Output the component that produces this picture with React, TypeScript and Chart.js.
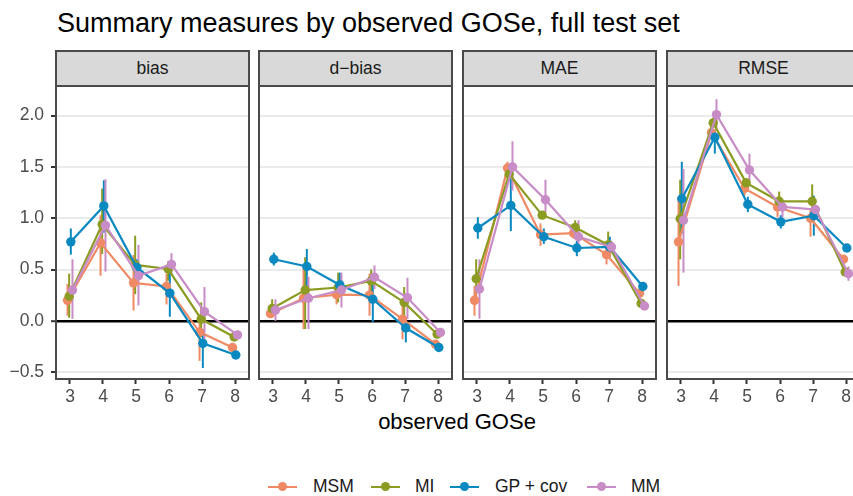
import React, { useEffect, useRef } from 'react';
import { Chart, registerables } from 'chart.js';

Chart.register(...registerables);

const FONT = '"Liberation Sans", Arial, Helvetica, sans-serif';

const TITLE = 'Summary measures by observed GOSe, full test set';
const X_TITLE = 'observed GOSe';
const GOSE = [3, 4, 5, 6, 7, 8];
const Y_TICKS = [-0.5, 0, 0.5, 1, 1.5, 2];
const PANELS = ['bias', 'd\u2212bias', 'MAE', 'RMSE'];
const METHODS = ['MSM', 'MI', 'GP + cov', 'MM'];
const COLORS = ['#EF8A64', '#8C9B22', '#0A88C0', '#C88CC6'];
const DODGE = [-0.075, -0.025, 0.025, 0.075];

// bias
const bias_MSM = [0.2, 0.76, 0.37, 0.335, -0.11, -0.26];
const bias_MSM_lo = [0.05, 0.44, 0.1, 0.16, -0.39, -0.29];
const bias_MSM_hi = [0.36, 1.03, 0.64, 0.46, 0.065, -0.23];
const bias_MI = [0.24, 0.94, 0.545, 0.505, 0.017, -0.157];
const bias_MI_lo = [0.03, 0.65, 0.26, 0.39, -0.16, -0.19];
const bias_MI_hi = [0.46, 1.29, 0.83, 0.58, 0.18, -0.12];
const bias_GP = [0.77, 1.12, 0.52, 0.27, -0.22, -0.333];
const bias_GP_lo = [0.645, 0.86, 0.45, 0.04, -0.46, -0.37];
const bias_GP_hi = [0.9, 1.37, 0.6, 0.52, -0.08, -0.3];
const bias_MM = [0.3, 0.93, 0.44, 0.55, 0.09, -0.137];
const bias_MM_lo = [0.02, 0.48, 0.15, 0.46, -0.18, -0.17];
const bias_MM_hi = [0.6, 1.38, 0.74, 0.66, 0.33, -0.11];

// d-bias
const dbias_MSM = [0.07, 0.22, 0.255, 0.25, 0.017, -0.228];
const dbias_MSM_lo = [0.03, -0.08, 0.16, 0.05, -0.18, -0.26];
const dbias_MSM_hi = [0.11, 0.55, 0.355, 0.46, 0.15, -0.2];
const dbias_MI = [0.12, 0.3, 0.325, 0.39, 0.18, -0.13];
const dbias_MI_lo = [0.05, -0.08, 0.18, 0.28, 0.02, -0.16];
const dbias_MI_hi = [0.21, 0.62, 0.47, 0.5, 0.33, -0.1];
const dbias_GP = [0.6, 0.53, 0.35, 0.21, -0.07, -0.26];
const dbias_GP_lo = [0.54, 0.26, 0.25, -0.01, -0.21, -0.29];
const dbias_GP_hi = [0.665, 0.7, 0.47, 0.36, 0.03, -0.23];
const dbias_MM = [0.105, 0.22, 0.3, 0.425, 0.225, -0.114];
const dbias_MM_lo = [0.0, -0.08, 0.13, 0.31, 0.02, -0.15];
const dbias_MM_hi = [0.21, 0.43, 0.47, 0.54, 0.42, -0.08];

// MAE
const mae_MSM = [0.2, 1.49, 0.84, 0.855, 0.645, 0.27];
const mae_MSM_lo = [0.05, 1.44, 0.73, 0.8, 0.55, 0.24];
const mae_MSM_hi = [0.34, 1.55, 0.95, 0.91, 0.735, 0.3];
const mae_MI = [0.41, 1.43, 1.03, 0.91, 0.74, 0.17];
const mae_MI_lo = [0.195, 1.37, 1.01, 0.84, 0.65, 0.15];
const mae_MI_hi = [0.6, 1.5, 1.05, 0.98, 0.87, 0.19];
const mae_GP = [0.905, 1.125, 0.82, 0.71, 0.72, 0.335];
const mae_GP_lo = [0.8, 0.875, 0.75, 0.63, 0.62, 0.3];
const mae_GP_hi = [1.01, 1.385, 0.9, 0.78, 0.82, 0.37];
const mae_MM = [0.31, 1.5, 1.18, 0.82, 0.72, 0.145];
const mae_MM_lo = [0.02, 1.27, 1.06, 0.75, 0.66, 0.12];
const mae_MM_hi = [0.6, 1.75, 1.375, 0.98, 0.78, 0.17];

// RMSE
const rmse_MSM = [0.77, 1.835, 1.29, 1.11, 1.0, 0.6];
const rmse_MSM_lo = [0.34, 1.78, 1.22, 1.01, 0.82, 0.57];
const rmse_MSM_hi = [1.2, 1.89, 1.35, 1.21, 1.09, 0.63];
const rmse_MI = [0.995, 1.93, 1.345, 1.165, 1.165, 0.476];
const rmse_MI_lo = [0.6, 1.88, 1.3, 1.07, 1.06, 0.45];
const rmse_MI_hi = [1.375, 1.98, 1.39, 1.26, 1.33, 0.5];
const rmse_GP = [1.19, 1.79, 1.135, 0.965, 1.025, 0.71];
const rmse_GP_lo = [0.85, 1.63, 1.06, 0.9, 0.83, 0.68];
const rmse_GP_hi = [1.55, 1.86, 1.21, 1.03, 1.22, 0.74];
const rmse_MM = [0.98, 2.01, 1.47, 1.11, 1.085, 0.46];
const rmse_MM_lo = [0.47, 1.86, 1.37, 1.01, 1.055, 0.39];
const rmse_MM_hi = [1.48, 2.16, 1.63, 1.16, 1.115, 0.53];

const PANEL_DATA = [
  [[bias_MSM, bias_MSM_lo, bias_MSM_hi], [bias_MI, bias_MI_lo, bias_MI_hi], [bias_GP, bias_GP_lo, bias_GP_hi], [bias_MM, bias_MM_lo, bias_MM_hi]],
  [[dbias_MSM, dbias_MSM_lo, dbias_MSM_hi], [dbias_MI, dbias_MI_lo, dbias_MI_hi], [dbias_GP, dbias_GP_lo, dbias_GP_hi], [dbias_MM, dbias_MM_lo, dbias_MM_hi]],
  [[mae_MSM, mae_MSM_lo, mae_MSM_hi], [mae_MI, mae_MI_lo, mae_MI_hi], [mae_GP, mae_GP_lo, mae_GP_hi], [mae_MM, mae_MM_lo, mae_MM_hi]],
  [[rmse_MSM, rmse_MSM_lo, rmse_MSM_hi], [rmse_MI, rmse_MI_lo, rmse_MI_hi], [rmse_GP, rmse_GP_lo, rmse_GP_hi], [rmse_MM, rmse_MM_lo, rmse_MM_hi]],
];

// layout
const PANEL_LEFT = [56, 259, 463, 667];
const PANEL_W = 193;
const PANEL_TOP = 86;
const PANEL_BOTTOM = 379;
const STRIP_TOP = 50;
const Y_AXIS_W = 56;
const PAD_TOP = 30;
const PAD_RIGHT = 10;
const X_AXIS_H = 30;
const BORDER = '#4a4a4a';

const errorBarPlugin = {
  id: 'errbars',
  beforeDatasetsDraw(chart: any) {
    const { ctx, chartArea } = chart;
    const xs = chart.scales.x;
    const ys = chart.scales.y;
    ctx.save();
    ctx.beginPath();
    ctx.rect(chartArea.left, chartArea.top, chartArea.right - chartArea.left, chartArea.bottom - chartArea.top);
    ctx.clip();
    chart.data.datasets.forEach((ds: any) => {
      ctx.strokeStyle = ds.borderColor;
      ctx.lineWidth = 2;
      ds.data.forEach((p: any, i: number) => {
        const px = xs.getPixelForValue(p.x);
        ctx.beginPath();
        ctx.moveTo(px, ys.getPixelForValue(ds.lo[i]));
        ctx.lineTo(px, ys.getPixelForValue(ds.hi[i]));
        ctx.stroke();
      });
    });
    ctx.restore();
  },
};

const borderPlugin = {
  id: 'panelBorder',
  afterDraw(chart: any) {
    const { ctx, chartArea } = chart;
    ctx.save();
    ctx.strokeStyle = BORDER;
    ctx.lineWidth = 2;
    ctx.strokeRect(chartArea.left, chartArea.top, chartArea.right - chartArea.left, chartArea.bottom - chartArea.top);
    ctx.restore();
  },
};

const fmt = (v: number) => {
  const s = Number(v).toFixed(1);
  return s.replace('-', '\u2212');
};

function Panel({ index }: { index: number }) {
  const ref = useRef<HTMLCanvasElement | null>(null);
  const showAxis = index === 0;
  const width = Y_AXIS_W + PANEL_W + PAD_RIGHT;
  const height = PAD_TOP + (PANEL_BOTTOM - PANEL_TOP) + X_AXIS_H;

  useEffect(() => {
    if (!ref.current) return;
    const series = PANEL_DATA[index];
    const datasets = series.map((s, m) => ({
      label: METHODS[m],
      data: GOSE.map((g, i) => ({ x: g + DODGE[m], y: s[0][i] })),
      lo: s[1],
      hi: s[2],
      borderColor: COLORS[m],
      backgroundColor: COLORS[m],
      pointBackgroundColor: COLORS[m],
      pointBorderWidth: 0,
      pointRadius: 4.7,
      borderWidth: 2.2,
      tension: 0,
      order: 3 - m,
    }));
    const tickFont = { family: FONT, size: 17.5 };
    const chart = new Chart(ref.current, {
      type: 'line',
      data: { datasets: datasets as any },
      options: {
        animation: false,
        responsive: false,
        events: [],
        layout: { padding: { top: PAD_TOP, right: PAD_RIGHT, bottom: 0, left: 0 } },
        plugins: { legend: { display: false }, tooltip: { enabled: false } },
        scales: {
          x: {
            type: 'linear',
            min: 2.576,
            max: 8.424,
            afterFit: (s: any) => { s.height = X_AXIS_H; },
            grid: { drawOnChartArea: false, drawTicks: true, tickLength: 5, tickColor: '#333', tickWidth: 2 },
            border: { display: false },
            afterBuildTicks: (s: any) => { s.ticks = GOSE.map((v) => ({ value: v })); },
            ticks: {
              stepSize: 1,
              includeBounds: false,
              autoSkip: false,
              maxRotation: 0,
              padding: 2.5,
              color: '#4d4d4d',
              font: tickFont,
              callback: (v: any) => String(v),
            },
          },
          y: {
            type: 'linear',
            min: -0.567,
            max: 2.289,
            afterFit: (s: any) => { s.width = Y_AXIS_W; },
            afterBuildTicks: (s: any) => { s.ticks = Y_TICKS.map((v) => ({ value: v })); },
            grid: {
              color: (c: any) => (c.tick && c.tick.value === 0 ? '#000000' : '#ebebeb'),
              lineWidth: (c: any) => (c.tick && c.tick.value === 0 ? 2.4 : 2),
              drawTicks: showAxis,
              tickLength: 5,
              tickColor: '#333',
              tickWidth: 2,
            },
            border: { display: false },
            ticks: {
              display: showAxis,
              stepSize: 0.5,
              includeBounds: false,
              padding: 7,
              color: '#4d4d4d',
              font: tickFont,
              callback: (v: any) => fmt(v),
            },
          },
        },
      } as any,
      plugins: [errorBarPlugin, borderPlugin],
    });
    return () => chart.destroy();
  }, [index]);

  return (
    <canvas
      ref={ref}
      width={width}
      height={height}
      style={{ position: 'absolute', left: PANEL_LEFT[index] - Y_AXIS_W, top: PANEL_TOP - PAD_TOP, width, height }}
    />
  );
}

function textTop(baseline: number, size: number) {
  return baseline - 0.8465 * size;
}

export default function App() {
  const LEG_LINE = [268, 371, 450, 587];
  const LEG_TEXT = [313, 415, 495, 631];
  const legY = 486.7;
  return (
    <div
      style={{
        position: 'absolute',
        left: 0,
        top: 0,
        width: 853,
        height: 496,
        overflow: 'hidden',
        background: '#ffffff',
        fontFamily: FONT,
      }}
    >
      <div style={{ position: 'absolute', left: 57, top: textTop(33.3, 27), fontSize: 27, lineHeight: 1, color: '#000', whiteSpace: 'nowrap' }}>
        {TITLE}
      </div>
      {PANELS.map((p, i) => (
        <div
          key={p}
          style={{
            position: 'absolute',
            left: PANEL_LEFT[i] - 1,
            top: STRIP_TOP,
            width: PANEL_W + 2,
            height: PANEL_TOP - STRIP_TOP + 1,
            boxSizing: 'border-box',
            background: '#d9d9d9',
            border: `2px solid ${BORDER}`,
          }}
        >
          <div
            style={{
              position: 'absolute',
              left: 0,
              right: 0,
              top: textTop(75, 17.5) - STRIP_TOP - 2,
              textAlign: 'center',
              fontSize: 17.5,
              lineHeight: 1,
              color: '#1a1a1a',
              whiteSpace: 'nowrap',
            }}
          >
            {p}
          </div>
        </div>
      ))}
      {PANELS.map((p, i) => (
        <Panel key={'c' + i} index={i} />
      ))}
      <div style={{ position: 'absolute', left: 257, width: 400, top: textTop(429.5, 22), textAlign: 'center', fontSize: 22, lineHeight: 1, color: '#000', whiteSpace: 'nowrap' }}>
        {X_TITLE}
      </div>
      {METHODS.map((m, i) => (
        <React.Fragment key={m}>
          <div style={{ position: 'absolute', left: LEG_LINE[i], top: legY - 1.1, width: 29, height: 2.2, background: COLORS[i] }} />
          <div
            style={{
              position: 'absolute',
              left: LEG_LINE[i] + 14.5 - 4.7,
              top: legY - 4.7,
              width: 9.4,
              height: 9.4,
              borderRadius: '50%',
              background: COLORS[i],
            }}
          />
          <div style={{ position: 'absolute', left: LEG_TEXT[i], top: textTop(492.5, 17.5), fontSize: 17.5, lineHeight: 1, color: '#1a1a1a', whiteSpace: 'nowrap' }}>
            {m}
          </div>
        </React.Fragment>
      ))}
    </div>
  );
}
